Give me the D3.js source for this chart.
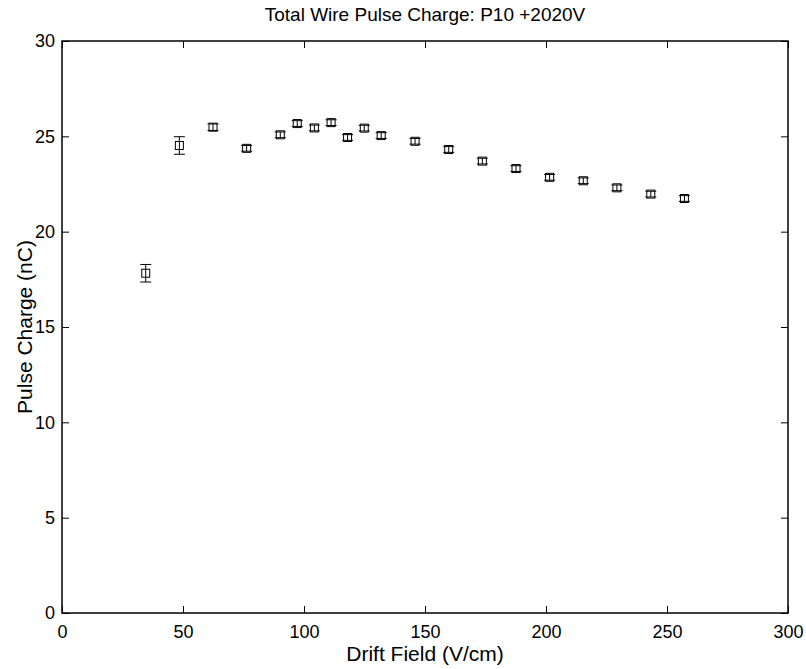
<!DOCTYPE html>
<html>
<head>
<meta charset="utf-8">
<script src="https://cdn.jsdelivr.net/npm/d3@7"></script>
<style>
  body { margin: 0; background: #fff; }
  text { font-family: "Liberation Sans", Arial, sans-serif; fill: #000; }
</style>
</head>
<body>
<div id="chart"></div>
<script>
// data
let driftField = [34.6, 48.5, 62.4, 76.3, 90.2, 97.2, 104.3, 111.2, 118.0, 124.9, 131.9, 145.9, 159.8, 173.7, 187.6, 201.5, 215.4, 229.3, 243.3, 257.2];
let pulseCharge = [17.82, 24.52, 25.48, 24.37, 25.08, 25.67, 25.44, 25.72, 24.94, 25.43, 25.04, 24.74, 24.31, 23.70, 23.31, 22.85, 22.67, 22.30, 21.97, 21.74];
let chargeErr = [0.46, 0.46, 0.17, 0.15, 0.15, 0.15, 0.15, 0.15, 0.15, 0.15, 0.15, 0.15, 0.15, 0.15, 0.15, 0.15, 0.15, 0.15, 0.15, 0.15];
let xTicks = [0, 50, 100, 150, 200, 250, 300];
let yTicks = [0, 5, 10, 15, 20, 25, 30];

let width = 806, height = 669;
let margin = { left: 62, right: 18, top: 41, bottom: 56 };
let plotWidth = width - margin.left - margin.right;
let plotHeight = height - margin.top - margin.bottom;
let TickLen = 7;
let TickSize = 18;
let TitleSize = 19;
let CaptionSize = 21;

let svg = d3.select("#chart").append("svg")
    .attr("width", width)
    .attr("height", height);

let g = svg.append("g")
    .attr("transform", "translate(" + margin.left + "," + margin.top + ")");

let xScale = d3.scaleLinear().domain([0, 300]).range([0, plotWidth]);
let yScale = d3.scaleLinear().domain([0, 30]).range([plotHeight, 0]);

// 坐标轴 (ticks inward, mirrored on top/right)
function styleAxis(sel) {
    sel.select(".domain").remove();
    sel.selectAll("line").attr("stroke", "#000").attr("stroke-width", 1);
    sel.selectAll("text").style("font-size", TickSize + "px")
       .style("font-family", "'Liberation Sans', Arial, sans-serif");
}

g.append("g")
    .attr("transform", "translate(0," + plotHeight + ")")
    .call(d3.axisBottom(xScale).tickValues(xTicks).tickSizeInner(-TickLen).tickSizeOuter(0).tickPadding(12))
    .call(styleAxis);

g.append("g")
    .call(d3.axisLeft(yScale).tickValues(yTicks).tickSizeInner(-TickLen).tickSizeOuter(0).tickPadding(7))
    .call(styleAxis);

g.append("g")
    .call(d3.axisTop(xScale).tickValues(xTicks).tickSizeInner(-TickLen).tickSizeOuter(0).tickFormat(""))
    .call(styleAxis);

g.append("g")
    .attr("transform", "translate(" + plotWidth + ",0)")
    .call(d3.axisRight(yScale).tickValues(yTicks).tickSizeInner(-TickLen).tickSizeOuter(0).tickFormat(""))
    .call(styleAxis);

// box
g.append("rect")
    .attr("x", 0).attr("y", 0)
    .attr("width", plotWidth).attr("height", plotHeight)
    .attr("fill", "none")
    .attr("stroke", "#000")
    .attr("stroke-width", 1.5);

// labels
g.append("text")
    .attr("x", plotWidth / 2)
    .attr("y", plotHeight + 48)
    .attr("text-anchor", "middle")
    .style("font-size", CaptionSize + "px")
    .text("Drift Field (V/cm)");

g.append("text")
    .attr("transform", "rotate(-90)")
    .attr("x", -plotHeight / 2)
    .attr("y", -30)
    .attr("text-anchor", "middle")
    .style("font-size", CaptionSize + "px")
    .text("Pulse Charge (nC)");

g.append("text")
    .attr("x", plotWidth / 2)
    .attr("y", -20)
    .attr("text-anchor", "middle")
    .style("font-size", TitleSize + "px")
    .text("Total Wire Pulse Charge: P10 +2020V");

// 误差棒 + 方块
let points = driftField.map((x, i) => ({ x: x, y: pulseCharge[i], e: chargeErr[i] }));
let capHalf = 5.5, boxHalf = 4;

let pt = g.selectAll(".pt")
    .data(points)
    .enter().append("g")
    .attr("class", "pt");

pt.append("line")
    .attr("x1", d => xScale(d.x)).attr("x2", d => xScale(d.x))
    .attr("y1", d => yScale(d.y - d.e)).attr("y2", d => yScale(d.y + d.e))
    .attr("stroke", "#000").attr("stroke-width", 1);

pt.append("line")
    .attr("x1", d => xScale(d.x) - capHalf).attr("x2", d => xScale(d.x) + capHalf)
    .attr("y1", d => yScale(d.y + d.e)).attr("y2", d => yScale(d.y + d.e))
    .attr("stroke", "#000").attr("stroke-width", 1);

pt.append("line")
    .attr("x1", d => xScale(d.x) - capHalf).attr("x2", d => xScale(d.x) + capHalf)
    .attr("y1", d => yScale(d.y - d.e)).attr("y2", d => yScale(d.y - d.e))
    .attr("stroke", "#000").attr("stroke-width", 1);

pt.append("rect")
    .attr("x", d => xScale(d.x) - boxHalf)
    .attr("y", d => yScale(d.y) - boxHalf)
    .attr("width", boxHalf * 2)
    .attr("height", boxHalf * 2)
    .attr("fill", "none")
    .attr("stroke", "#000")
    .attr("stroke-width", 1);
</script>
</body>
</html>
